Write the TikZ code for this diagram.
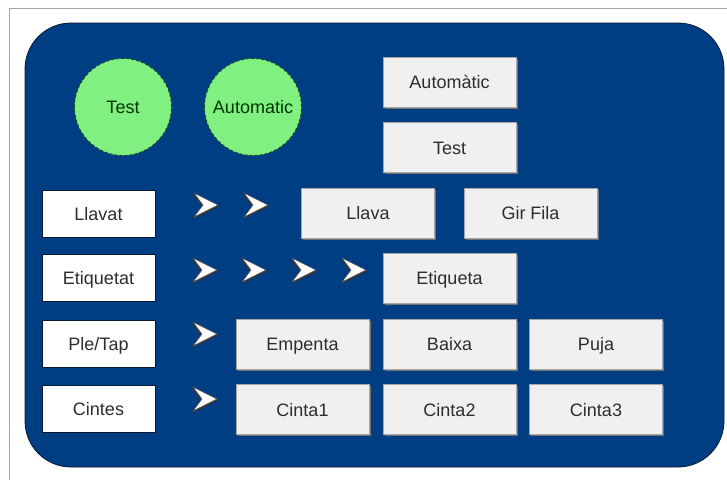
\documentclass[tikz,border=0pt]{standalone}
\usepackage{fontspec}
\setmainfont{Liberation Sans}
\usetikzlibrary{shadows}
\definecolor{panelblue}{RGB}{0,62,132}
\definecolor{paneledge}{RGB}{10,25,50}
\definecolor{lampgreen}{RGB}{128,240,128}
\definecolor{lampedge}{RGB}{20,70,20}
\definecolor{keygray}{RGB}{240,240,240}
\definecolor{textgray}{RGB}{45,45,45}
\begin{document}
\begin{tikzpicture}[x=1pt,y=-1pt,
  every node/.style={font=\fontsize{18}{21}\selectfont, text=textgray,
    inner sep=0pt, text height=13pt, text depth=0pt},
  lamp/.style={circle, minimum size=97pt, fill=lampgreen, draw=lampedge,
    densely dashed, line width=0.8pt, text=black!80!green},
  label box/.style={rectangle, minimum width=113pt, minimum height=47pt,
    fill=white, draw=paneledge, line width=0.8pt},
  key/.style={rectangle, minimum width=133pt, minimum height=50pt,
    fill=keygray, draw=gray!70, line width=0.6pt,
    drop shadow={shadow xshift=1.5pt, shadow yshift=-1.5pt, fill=black!55, opacity=1}},
  chev/.style={fill=white, draw=black!70, line width=0.5pt, line join=miter},
  chevshade/.style={fill=black!80}
]
\useasboundingbox (0,0) rectangle (727,480);
\fill[white] (0,0) rectangle (727,480);

% outer frame
\draw[gray!70, line width=1pt] (9,480) -- (9,8) -- (727,8);

% control panel
\draw[paneledge, fill=panelblue, line width=0.8pt, rounded corners=46pt]
  (25,23) rectangle (724,467);

% indicator lamps
\node[lamp] (lampTest) at (123,107) {Test};
\node[lamp] (lampAuto) at (253,107) {Automatic};

% row labels
\node[label box] (llavat)    at (98.5,213.5) {Llavat};
\node[label box] (etiquetat) at (98.5,278)   {Etiquetat};
\node[label box] (pletap)    at (98.5,343.5) {Ple/Tap};
\node[label box] (cintes)    at (98.5,409)   {Cintes};

% push buttons
\node[key] (bAuto)  at (449.5,82)  {Automàtic};
\node[key] (bTest)  at (449.5,147.5) {Test};
\node[key] (bLlava) at (368,213)  {Llava};
\node[key] (bGir)   at (530.5,213) {Gir Fila};
\node[key] (bEtiq)  at (449.5,278) {Etiqueta};
\node[key] (bEmp)   at (302.5,344) {Empenta};
\node[key] (bBaixa) at (449.5,344) {Baixa};
\node[key] (bPuja)  at (596,344)   {Puja};
\node[key] (bC1)    at (302.5,409.5) {Cinta1};
\node[key] (bC2)    at (449.5,409.5) {Cinta2};
\node[key] (bC3)    at (596,409.5)   {Cinta3};

% direction chevrons, given by their top-left corner
\newcommand{\chevron}[2]{%
  \begin{scope}[shift={(#1,#2)}]
    \fill[chevshade] (-1,1.5) -- (25,13.5) -- (-1,26) -- (8,13.5) -- cycle;
    \draw[chev] (0,0) -- (24,12) -- (0,24) -- (9,12) -- cycle;
  \end{scope}}
\chevron{194}{193}
\chevron{244}{193}
\chevron{193}{258}
\chevron{242}{258}
\chevron{292}{258}
\chevron{342}{258}
\chevron{193}{322}
\chevron{193}{387}
\end{tikzpicture}
\end{document}
